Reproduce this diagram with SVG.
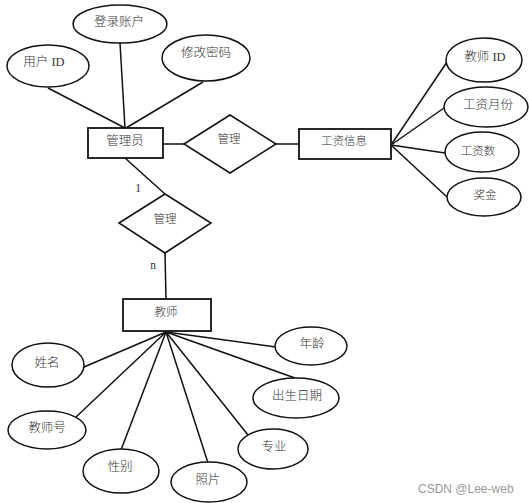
<svg xmlns="http://www.w3.org/2000/svg" width="529" height="503" viewBox="0 0 529 503">
<style>
.s{fill:#fff;stroke:#111;stroke-width:1.5}
.r{fill:#fff;stroke:#111;stroke-width:1.8}
.l{stroke:#111;stroke-width:1.5;fill:none}
text{font-family:"Liberation Serif","Noto Sans CJK SC",serif;font-size:12.5px;font-weight:300;fill:#333;text-anchor:middle;dominant-baseline:central}
.m{font-size:11.5px}
.c{font-family:"Liberation Sans",Arial,sans-serif;font-size:12px;font-weight:400;fill:#999;text-anchor:start}
</style>
<rect width="529" height="503" fill="#fff"/>
<g id="connectors">
<line class="l" x1="48" y1="88" x2="125" y2="128"/>
<line class="l" x1="120" y1="43" x2="125" y2="128"/>
<line class="l" x1="203" y1="82" x2="126" y2="128"/>
<line class="l" x1="163" y1="144" x2="184" y2="144"/>
<line class="l" x1="276" y1="144" x2="299" y2="144"/>
<line class="l" x1="391" y1="145" x2="447" y2="62"/>
<line class="l" x1="391" y1="145" x2="444" y2="108"/>
<line class="l" x1="391" y1="145" x2="445" y2="153"/>
<line class="l" x1="391" y1="145" x2="447" y2="197"/>
<line class="l" x1="125" y1="158" x2="165" y2="194"/>
<line class="l" x1="165" y1="253" x2="166" y2="299"/>
<line class="l" x1="166" y1="332" x2="84" y2="367"/>
<line class="l" x1="166" y1="332" x2="76" y2="417"/>
<line class="l" x1="166" y1="332" x2="121" y2="450"/>
<line class="l" x1="166" y1="332" x2="208" y2="463"/>
<line class="l" x1="166" y1="332" x2="248" y2="435"/>
<line class="l" x1="166" y1="332" x2="295" y2="378"/>
<line class="l" x1="166" y1="332" x2="276" y2="347"/>
<text x="138" y="188" class="m">1</text>
<text x="153" y="265" class="m">n</text>
</g>
<g id="admin"><rect class="r" x="88" y="128" width="75" height="30"/><text x="125" y="141">管理员</text></g>
<g id="userid"><ellipse class="s" cx="48" cy="66" rx="41" ry="21"/><text x="44" y="62">用户 ID</text></g>
<g id="account"><ellipse class="s" cx="120" cy="24" rx="47" ry="19"/><text x="119" y="22">登录账户</text></g>
<g id="changepwd"><ellipse class="s" cx="206" cy="58" rx="44" ry="23"/><text x="206" y="53">修改密码</text></g>
<g id="manage1"><polygon class="s" points="184,144 230,115 276,144 230,173"/><text x="229" y="139" class="m">管理</text></g>
<g id="salary"><rect class="r" x="299" y="129" width="92" height="30"/><text x="344" y="141" class="m">工资信息</text></g>
<g id="tid"><ellipse class="s" cx="484" cy="60" rx="38" ry="22"/><text x="485" y="57">教师 ID</text></g>
<g id="month"><ellipse class="s" cx="486" cy="107" rx="42" ry="20"/><text x="488" y="105">工资月份</text></g>
<g id="amount"><ellipse class="s" cx="482" cy="152" rx="37" ry="20"/><text x="478" y="151" class="m">工资数</text></g>
<g id="bonus"><ellipse class="s" cx="484" cy="197" rx="37" ry="19"/><text x="485" y="195" class="m">奖金</text></g>
<g id="manage2"><polygon class="s" points="119,223 165,194 211,223 165,253"/><text x="165" y="219" class="m">管理</text></g>
<g id="teacher"><rect class="r" x="123" y="299" width="88" height="32"/><text x="166" y="312" class="m">教师</text></g>
<g id="name"><ellipse class="s" cx="48" cy="365" rx="36" ry="22"/><text x="47" y="363">姓名</text></g>
<g id="tno"><ellipse class="s" cx="47" cy="430" rx="39" ry="19"/><text x="47" y="428">教师号</text></g>
<g id="gender"><ellipse class="s" cx="121" cy="471" rx="38" ry="22"/><text x="120" y="467">性别</text></g>
<g id="photo"><ellipse class="s" cx="209" cy="482" rx="38" ry="20"/><text x="208" y="480">照片</text></g>
<g id="major"><ellipse class="s" cx="273" cy="449" rx="35" ry="20"/><text x="274" y="447">专业</text></g>
<g id="birth"><ellipse class="s" cx="296" cy="398" rx="43" ry="20"/><text x="297" y="396">出生日期</text></g>
<g id="age"><ellipse class="s" cx="311" cy="346" rx="36" ry="19"/><text x="312" y="344">年龄</text></g>
<text x="418" y="489" class="c">CSDN @Lee-web</text>
</svg>
